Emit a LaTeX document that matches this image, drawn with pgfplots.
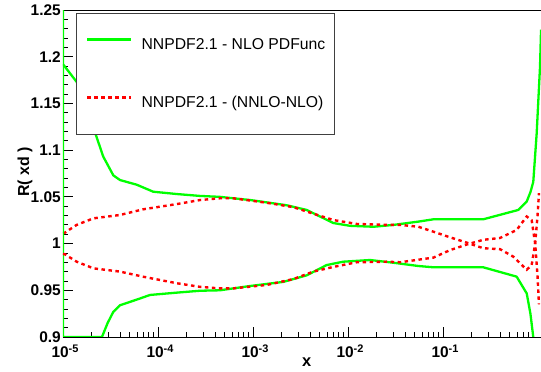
\documentclass[border=0pt]{standalone}
\usepackage{pgfplots}
\usepackage{pgfplotstable}
\pgfplotsset{compat=1.18}
\usepackage{fontspec}
\setmainfont{Liberation Sans}
\definecolor{rgreen}{RGB}{0,255,0}
\definecolor{rred}{RGB}{255,0,0}

% lx = log10(x), v = R(xd)
\pgfplotstableread{
lx v
-5.000 1.250
-5.000 1.192
-4.856 1.173
-4.760 1.150
-4.663 1.119
-4.576 1.093
-4.470 1.073
-4.400 1.068
-4.224 1.063
-4.050 1.0555
-3.800 1.053
-3.558 1.051
-3.347 1.050
-3.030 1.0466
-2.645 1.041
-2.435 1.036
-2.295 1.029
-2.155 1.022
-1.980 1.019
-1.730 1.018
-1.520 1.020
-1.260 1.0235
-1.100 1.026
-0.576 1.026
-0.207 1.036
-0.119 1.045
-0.080 1.055
-0.050 1.066
-0.014 1.118
 0.021 1.189
 0.032 1.229
}\greenup

\pgfplotstableread{
lx v
-5.000 1.192
-5.000 0.900
-4.590 0.900
-4.530 0.915
-4.470 0.927
-4.400 0.934
-4.224 0.940
-4.084 0.945
-3.800 0.9475
-3.558 0.9495
-3.347 0.950
-3.030 0.9546
-2.680 0.959
-2.435 0.966
-2.225 0.977
-2.050 0.9806
-1.768 0.9824
-1.523 0.9795
-1.260 0.976
-1.100 0.9746
-0.576 0.9746
-0.225 0.9646
-0.119 0.9467
-0.080 0.925
-0.050 0.900
}\greenlo

\pgfplotstableread{
lx v
-5.000 1.011
-4.980 1.0117
-4.856 1.020
-4.680 1.027
-4.400 1.0306
-4.155 1.0367
-3.800 1.0423
-3.558 1.0466
-3.347 1.0485
-3.210 1.0485
-2.856 1.0437
-2.575 1.039
-2.365 1.032
-2.155 1.0252
-1.908 1.021
-1.593 1.020
-1.450 1.020
-1.260 1.018
-1.100 1.0127
-0.926 1.0067
-0.750 1.001
-0.576 0.995
-0.400 0.994
-0.260 0.986
-0.119 0.972
-0.067 0.977
-0.030 1.000
-0.005 1.030
 0.010 1.054
}\redA

\pgfplotstableread{
lx v
-5.000 0.989
-4.980 0.9885
-4.856 0.9806
-4.680 0.9735
-4.400 0.970
-4.155 0.9645
-3.800 0.9575
-3.558 0.9537
-3.347 0.952
-3.210 0.952
-2.856 0.9557
-2.575 0.962
-2.365 0.970
-2.155 0.975
-1.908 0.980
-1.593 0.9806
-1.450 0.980
-1.100 0.985
-0.926 0.993
-0.750 0.999
-0.576 1.004
-0.400 1.006
-0.225 1.0145
-0.119 1.029
-0.067 1.025
-0.030 1.000
-0.005 0.965
 0.010 0.935
}\redB

\newcommand\xtl[1]{\textbf{10}\raisebox{5bp}{\fontsize{11}{11}\selectfont\bfseries #1}}

\begin{document}
\begin{tikzpicture}
\begin{axis}[
  at={(63bp,35bp)}, anchor=south west,
  scale only axis, width=478bp, height=327bp,
  xmode=log, xmin=1e-5, xmax=1.075,
  ymin=0.9, ymax=1.25,
  axis x line*=box, axis y line*=left,
  axis line style={black, line width=0.9bp},
  tick pos=left, tick align=inside,
  xtick={1e-5,1e-4,1e-3,1e-2,1e-1},
  xticklabels={\xtl{-5},\xtl{-4},\xtl{-3},\xtl{-2},\xtl{-1}},
  minor xtick={2e-5,3e-5,4e-5,5e-5,6e-5,7e-5,8e-5,9e-5,
               2e-4,3e-4,4e-4,5e-4,6e-4,7e-4,8e-4,9e-4,
               2e-3,3e-3,4e-3,5e-3,6e-3,7e-3,8e-3,9e-3,
               2e-2,3e-2,4e-2,5e-2,6e-2,7e-2,8e-2,9e-2,
               2e-1,3e-1,4e-1,5e-1,6e-1,7e-1,8e-1,9e-1},
  ytick={0.9,0.95,1,1.05,1.1,1.15,1.2,1.25},
  yticklabels={0.9,0.95,1,1.05,1.1,1.15,1.2,1.25},
  minor y tick num=4,
  major tick length=10bp, minor tick length=5.5bp,
  tick style={black, line width=0.8bp},
  xticklabel style={anchor=base, yshift=-21bp, xshift=2bp, inner sep=0pt, font=\fontsize{15.5}{17}\selectfont\bfseries},
  yticklabel style={anchor=east, xshift=-2bp, inner sep=0pt, font=\fontsize{15.5}{17}\selectfont\bfseries},
  xlabel={x}, ylabel={R( xd )},
  every axis x label/.style={at={(axis description cs:0.51,-0.078)}, anchor=center, font=\fontsize{16.5}{18}\selectfont\bfseries},
  every axis y label/.style={at={(axis description cs:-0.0795,0.5046)}, rotate=90, anchor=center, font=\fontsize{16}{18}\selectfont\bfseries},
  legend image code/.code={\draw[#1, line width=3bp] (0bp,5.5bp) -- (44bp,5.5bp);},
  legend cell align=left,
  legend style={at={(rel axis cs:0.0272,0.9908)}, anchor=north west,
    draw=black!75, line width=1.2bp, fill=white,
    inner xsep=9bp, inner ysep=24.5bp, row sep=43bp, column sep=9bp,
    font=\fontsize{15.8}{19}\selectfont,
    nodes={inner sep=0pt, text height=11.5bp, text depth=3bp}},
  clip=true,
]
\addplot[rgreen, line width=2.3bp, line join=round] table[x expr={10^(\thisrow{lx})}, y=v] {\greenup};
\addlegendentry{NNPDF2.1 - NLO PDFunc}
\addplot[rred, line width=2.4bp, dash pattern=on 3.5bp off 3.5bp] table[x expr={10^(\thisrow{lx})}, y=v] {\redA};
\addlegendentry{NNPDF2.1 - (NNLO-NLO)}
\addplot[rgreen, line width=2.3bp, line join=round, forget plot] table[x expr={10^(\thisrow{lx})}, y=v] {\greenlo};
\addplot[rred, line width=2.4bp, dash pattern=on 3.5bp off 3.5bp, forget plot] table[x expr={10^(\thisrow{lx})}, y=v] {\redB};
\end{axis}
\pgfresetboundingbox
\useasboundingbox (0,0) rectangle (541bp,372bp);
\end{tikzpicture}
\end{document}
